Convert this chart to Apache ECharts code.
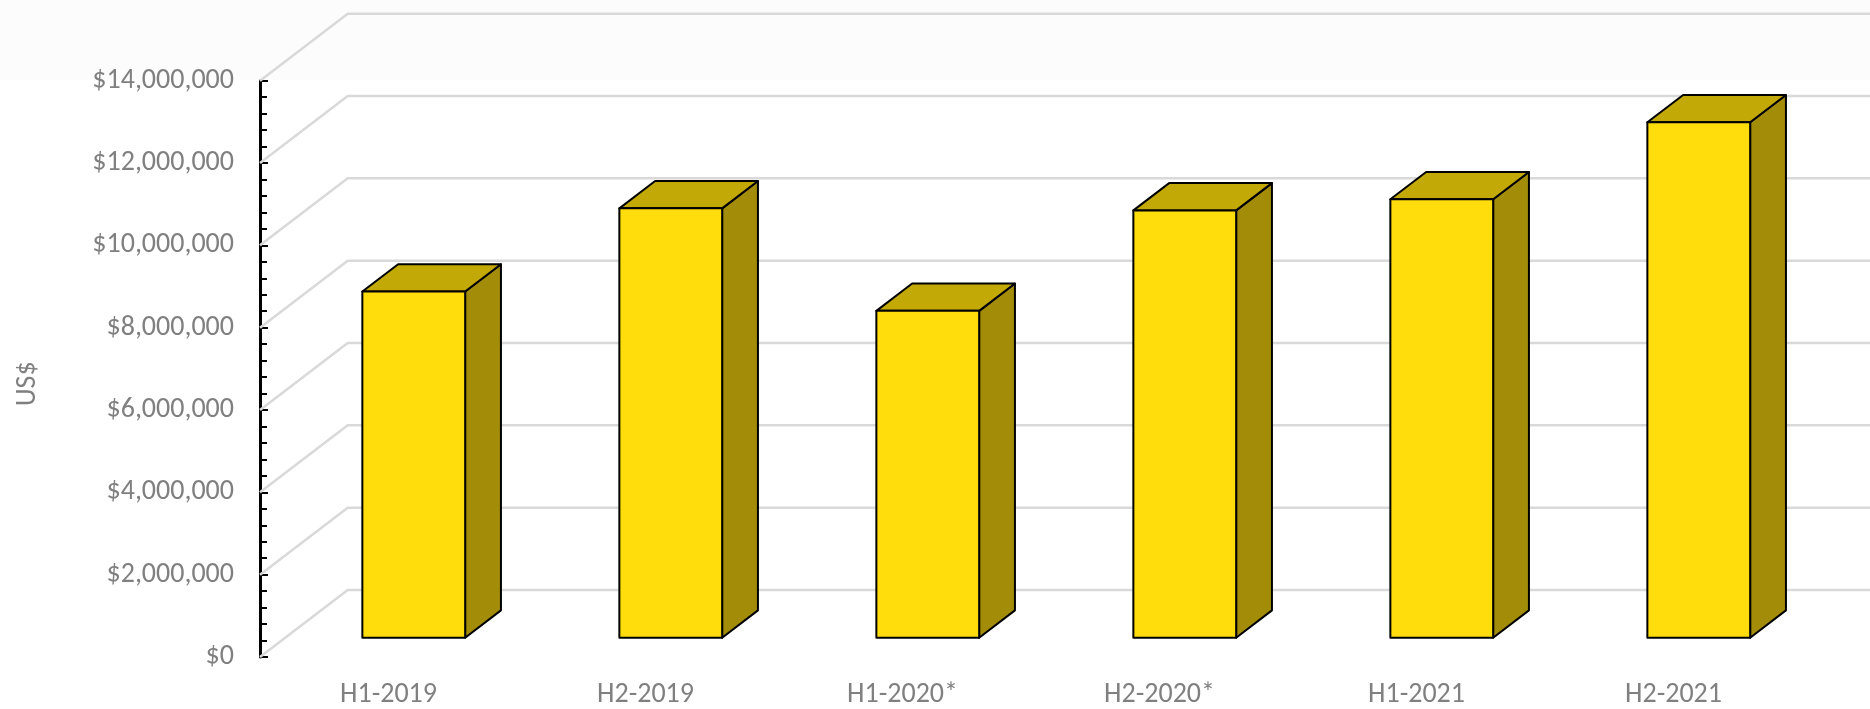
<!DOCTYPE html>
<html>
<head>
<meta charset="utf-8">
<script src="https://cdn.jsdelivr.net/npm/echarts@6/dist/echarts.min.js"></script>
<style>
html,body{margin:0;padding:0;background:#fff;}
#chart{width:1870px;height:709px;}
</style>
</head>
<body>
<div id="chart"></div>
<script>
// ---- data ----
const categories = ['H1-2019', 'H2-2019', 'H1-2020*', 'H2-2020*', 'H1-2021', 'H2-2021'];
const revenue = [8410000, 10430000, 7940000, 10380000, 10650000, 12520000];
const yTicks = [0, 2000000, 4000000, 6000000, 8000000, 10000000, 12000000, 14000000];
const yAxisName = 'US$';

// ---- style / geometry constants ----
const DEPTH = [87.7, -67];     // oblique depth vector of the floor
const FRONT = 0.288, BACK = 0.696; // bar depth position (fractions of floor depth)
const BAR_FRAC = 0.4;
const FONT = 'Carlito, "Liberation Sans", Arial, sans-serif';
const C_FRONT = '#FFDC0C', C_TOP = '#C3A906', C_SIDE = '#A28C08';

const chart = echarts.init(document.getElementById('chart'), null, {renderer: 'canvas'});

function gridRender(params, api) {
  const cs = params.coordSys;
  const v = api.value(0);
  const p = api.coord([0, v]);
  const y = p[1];
  const x0 = cs.x;
  const x1 = cs.x + cs.width + DEPTH[0] + 40;
  return {
    type: 'polyline',
    shape: {points: [[x0, y], [x0 + DEPTH[0], y + DEPTH[1]], [x1, y + DEPTH[1]]]},
    style: {stroke: '#D9D9D9', lineWidth: 2.5, fill: null},
    silent: true
  };
}

function barRender(params, api) {
  const idx = api.value(0);
  const val = api.value(1);
  const p0 = api.coord([idx, 0]);
  const p1 = api.coord([idx, val]);
  const bw = api.size([1, 0])[0] * BAR_FRAC;
  const fx = DEPTH[0] * FRONT, fy = DEPTH[1] * FRONT;
  const dx = DEPTH[0] * (BACK - FRONT), dy = DEPTH[1] * (BACK - FRONT);
  const xl = p0[0] - bw / 2 + fx, xr = p0[0] + bw / 2 + fx;
  const yb = p0[1] + fy, yt = p1[1] + fy;
  const stroke = {stroke: '#000', lineWidth: 2, lineJoin: 'round'};
  return {
    type: 'group',
    children: [
      {type: 'polygon', shape: {points: [[xr, yt], [xr, yb], [xr + dx, yb + dy], [xr + dx, yt + dy]]},
       style: Object.assign({fill: C_SIDE}, stroke)},
      {type: 'polygon', shape: {points: [[xl, yt], [xr, yt], [xr + dx, yt + dy], [xl + dx, yt + dy]]},
       style: Object.assign({fill: C_TOP}, stroke)},
      {type: 'rect', shape: {x: xl, y: yt, width: xr - xl, height: yb - yt},
       style: Object.assign({fill: C_FRONT}, stroke)}
    ]
  };
}

const option = {
  backgroundColor: '#ffffff',
  animation: false,
  graphic: [{
    type: 'rect', left: 0, top: 0, z: -10, silent: true,
    shape: {width: 1870, height: 80},
    style: {fill: '#FCFCFC'}
  }],
  grid: {left: 260, top: 80.7, right: 68, bottom: 49.7, containLabel: false},
  xAxis: {
    type: 'category',
    data: categories,
    axisLine: {show: false},
    axisTick: {show: false},
    axisLabel: {color: '#808080', fontSize: 28, fontFamily: FONT, margin: 24},
    splitLine: {show: false}
  },
  yAxis: {
    type: 'value',
    min: 0, max: 14000000, interval: 2000000,
    name: yAxisName,
    nameLocation: 'middle',
    nameGap: 218,
    nameTextStyle: {color: '#808080', fontSize: 28, fontFamily: FONT, padding: [0, 30, 0, 0]},
    axisLine: {show: true, lineStyle: {color: '#000', width: 3}},
    axisTick: {show: true, inside: true, length: 8, lineStyle: {color: '#000', width: 2}},
    minorTick: {show: true, splitNumber: 5, length: 7, lineStyle: {color: '#000', width: 2}},
    axisLabel: {
      color: '#808080', fontSize: 28, fontFamily: FONT, margin: 26,
      formatter: v => '$' + Number(v).toLocaleString('en-US')
    },
    splitLine: {show: false}
  },
  series: [
    {
      type: 'custom',
      renderItem: gridRender,
      data: yTicks.map(v => [v]),
      encode: {y: 0},
      clip: false,
      z: 1,
      silent: true
    },
    {
      type: 'custom',
      renderItem: barRender,
      data: revenue.map((v, i) => [i, v]),
      encode: {x: 0, y: 1},
      clip: false,
      z: 5
    }
  ]
};
chart.setOption(option);
</script>
</body>
</html>
